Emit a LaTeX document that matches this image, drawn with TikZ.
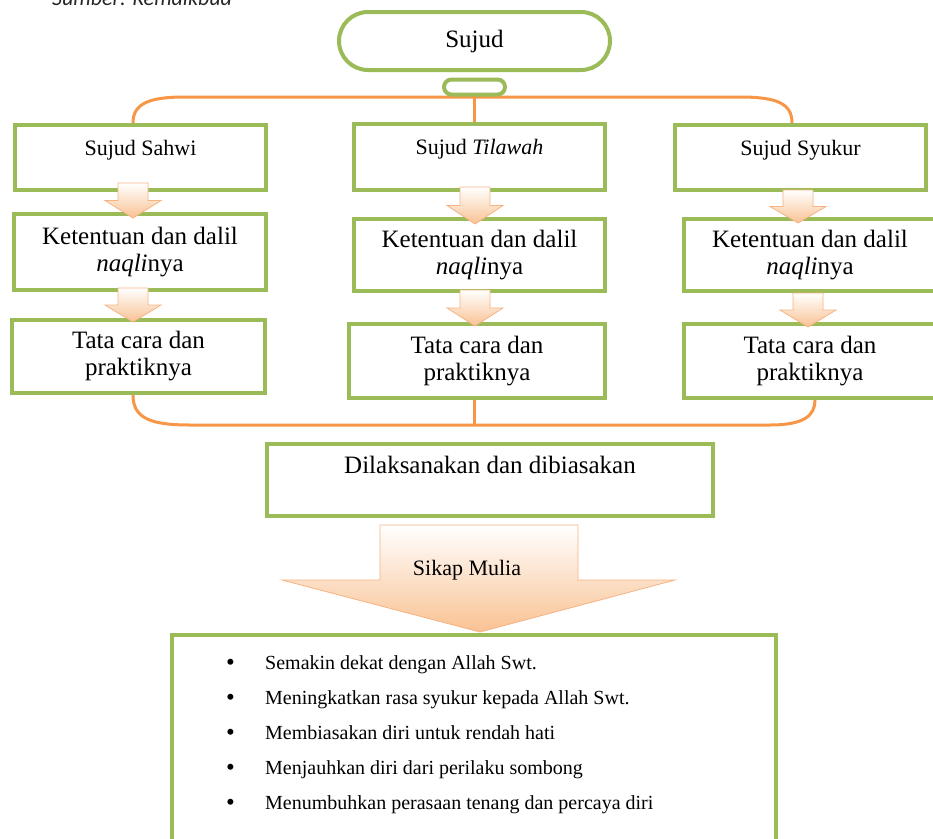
\documentclass[tikz,border=0pt]{standalone}
\usepackage{fontspec}
\usepackage{xcolor}
\usepackage{tikz}
\setmainfont{Liberation Serif}
\newfontfamily\sumberfont{Carlito}
\definecolor{boxgreen}{HTML}{9BBB59}
\definecolor{lineorange}{HTML}{F79646}
\definecolor{arrowpeach}{HTML}{F9C293}
\definecolor{arrowedge}{HTML}{F5B383}
\tikzstyle{box}=[fill=white, draw=boxgreen, line width=4pt, shape=rectangle, align=center, inner sep=0pt, font=\fontsize{25}{27}\selectfont]
\tikzstyle{head box}=[box, font=\fontsize{22}{24}\selectfont, text height=16pt, text depth=21pt]
\tikzstyle{pill}=[fill=white, draw=boxgreen, line width=4pt, shape=rectangle]
\tikzstyle{item}=[anchor=base west, inner sep=0pt, font=\fontsize{20}{24}\selectfont]
\tikzstyle{orange edge}=[-, draw=lineorange, line width=3pt]
\tikzstyle{block arrow}=[top color=white, bottom color=arrowpeach, draw=arrowedge, line width=0.8pt]
\pgfdeclarelayer{edgelayer}
\pgfdeclarelayer{nodelayer}
\pgfsetlayers{edgelayer,nodelayer,main}
% small block arrow: x, top of shaft, tip
\newcommand{\downblock}[3]{\path[style=block arrow] (#1-15,#2) -- (#1+15,#2) -- (#1+15,{(#2+#3)/2}) -- (#1+28,{(#2+#3)/2}) -- (#1,#3) -- (#1-28,{(#2+#3)/2}) -- (#1-15,{(#2+#3)/2}) -- cycle;}
\newcommand{\itemdot}{\makebox[39pt][l]{\raisebox{-1.5pt}{\fontsize{25}{24}\selectfont\textbullet}}}

\begin{document}
\begin{tikzpicture}[x=1pt, y=-1pt]
	\useasboundingbox (0,0) rectangle (933,838);
	\clip (0,0) rectangle (933,838);
	\begin{pgfonlayer}{nodelayer}
		\node [anchor=base west, inner sep=0pt, text=black!85, font=\sumberfont\itshape\fontsize{22}{24}\selectfont] (sumber) at (52,5) {Sumber: Kemdikbud};
		\node [style=pill, rounded corners=29pt, minimum width=271pt, minimum height=58pt, font=\fontsize{25}{27}\selectfont] (sujud) at (474.5,41) {Sujud};
		\node [style=pill, rounded corners=7.5pt, minimum width=61pt, minimum height=15pt, inner sep=0pt] (stem) at (474.5,87) {};
		\node [style=head box, minimum width=251pt, minimum height=65pt] (sahwi) at (140.5,157.5) {Sujud Sahwi};
		\node [style=box, minimum width=252pt, minimum height=76pt] (ket1) at (140,252) {Ketentuan dan dalil\\\textit{naqli}nya};
		\node [style=box, minimum width=253pt, minimum height=73pt] (tata1) at (138.5,356.5) {Tata cara dan\\praktiknya};
		\node [style=head box, minimum width=251pt, minimum height=66pt] (tilawah) at (479.5,157) {Sujud \textit{Tilawah}};
		\node [style=box, minimum width=251pt, minimum height=72pt] (ket2) at (479.5,255) {Ketentuan dan dalil\\\textit{naqli}nya};
		\node [style=box, minimum width=256pt, minimum height=74pt] (tata2) at (477,361) {Tata cara dan\\praktiknya};
		\node [style=head box, minimum width=251pt, minimum height=65pt] (syukur) at (800.5,157.5) {Sujud Syukur};
		\node [style=box, minimum width=252pt, minimum height=72pt] (ket3) at (810,255) {Ketentuan dan dalil\\\textit{naqli}nya};
		\node [style=box, minimum width=252pt, minimum height=74pt] (tata3) at (810,361) {Tata cara dan\\praktiknya};
		\node [style=box, minimum width=446pt, minimum height=72pt, text height=17pt, text depth=31pt] (dilaksanakan) at (490,480) {Dilaksanakan dan dibiasakan};
		\node [style=box, minimum width=604pt, minimum height=226pt] (mulia) at (474,748) {};
		\node [style=item] (item1) at (226,669) {\itemdot Semakin dekat dengan Allah Swt.};
		\node [style=item] (item2) at (226,704) {\itemdot Meningkatkan rasa syukur kepada Allah Swt.};
		\node [style=item] (item3) at (226,739) {\itemdot Membiasakan diri untuk rendah hati};
		\node [style=item] (item4) at (226,774) {\itemdot Menjauhkan diri dari perilaku sombong};
		\node [style=item] (item5) at (226,809) {\itemdot Menumbuhkan perasaan tenang dan percaya diri};
	\end{pgfonlayer}
	\begin{pgfonlayer}{edgelayer}
		\draw [style=orange edge] ([xshift=-7.5pt]sahwi.north) .. controls (133,104) and (148,97) .. (185,97) -- (740,97) .. controls (778,97) and (792,104) .. ([xshift=-8.5pt]syukur.north);
		\draw [style=orange edge] (stem.south) -- (stem.south |- tilawah.north);
		\draw [style=orange edge] ([xshift=-5.5pt]tata1.south) .. controls (133,418) and (150,425) .. (190,425) -- (770,425) .. controls (805,425) and (815,415) .. ([xshift=5pt]tata3.south);
		\draw [style=orange edge] ([xshift=-3pt]tata2.south) -- ++(0,25);
	\end{pgfonlayer}
	\downblock{133}{183}{218}
	\downblock{133}{288}{322}
	\downblock{475}{187}{224}
	\downblock{475}{290}{326}
	\downblock{798}{190}{223}
	\downblock{808}{293}{327}
	\path [style=block arrow] (380,525) -- (578,525) -- (578,580) -- (675,580) -- (480,632) -- (282,580) -- (380,580) -- cycle;
	\node [anchor=base, inner sep=0pt, font=\fontsize{22}{24}\selectfont] (sikap) at (467,575) {Sikap Mulia};
\end{tikzpicture}
\end{document}
